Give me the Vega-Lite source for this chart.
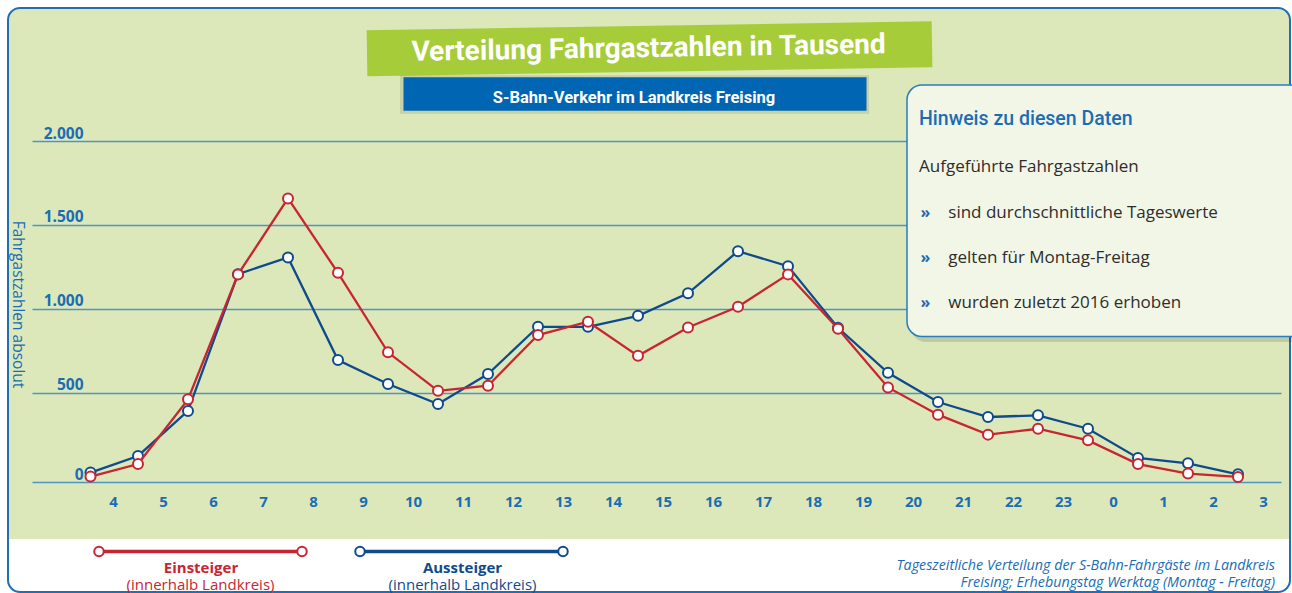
{
  "$schema": "https://vega.github.io/schema/vega-lite/v6.json",
  "width": 1249,
  "height": 341,
  "autosize": {"type": "none"},
  "padding": {"left": 32, "top": 141, "right": 11, "bottom": 111},
  "background": "#dce8ba",
  "config": {"view": {"stroke": null}, "font": "Open Sans"},
  "datasets": {
    "main": [
      {"t": 0.55, "series": "Aussteiger", "v": 26},
      {"t": 1.5, "series": "Aussteiger", "v": 125},
      {"t": 2.5, "series": "Aussteiger", "v": 393},
      {"t": 3.5, "series": "Aussteiger", "v": 1207},
      {"t": 4.5, "series": "Aussteiger", "v": 1307},
      {"t": 5.5, "series": "Aussteiger", "v": 696},
      {"t": 6.5, "series": "Aussteiger", "v": 553},
      {"t": 7.5, "series": "Aussteiger", "v": 434},
      {"t": 8.5, "series": "Aussteiger", "v": 613},
      {"t": 9.5, "series": "Aussteiger", "v": 894},
      {"t": 10.5, "series": "Aussteiger", "v": 894},
      {"t": 11.5, "series": "Aussteiger", "v": 959},
      {"t": 12.5, "series": "Aussteiger", "v": 1093},
      {"t": 13.5, "series": "Aussteiger", "v": 1344},
      {"t": 14.5, "series": "Aussteiger", "v": 1255},
      {"t": 15.5, "series": "Aussteiger", "v": 888},
      {"t": 16.5, "series": "Aussteiger", "v": 620},
      {"t": 17.5, "series": "Aussteiger", "v": 446},
      {"t": 18.5, "series": "Aussteiger", "v": 357},
      {"t": 19.5, "series": "Aussteiger", "v": 367},
      {"t": 20.5, "series": "Aussteiger", "v": 287},
      {"t": 21.5, "series": "Aussteiger", "v": 113},
      {"t": 22.5, "series": "Aussteiger", "v": 81},
      {"t": 23.5, "series": "Aussteiger", "v": 16},
      {"t": 0.55, "series": "Einsteiger", "v": 2},
      {"t": 1.5, "series": "Einsteiger", "v": 77},
      {"t": 2.5, "series": "Einsteiger", "v": 462},
      {"t": 3.5, "series": "Einsteiger", "v": 1206},
      {"t": 4.5, "series": "Einsteiger", "v": 1658},
      {"t": 5.5, "series": "Einsteiger", "v": 1215},
      {"t": 6.5, "series": "Einsteiger", "v": 742},
      {"t": 7.5, "series": "Einsteiger", "v": 513},
      {"t": 8.5, "series": "Einsteiger", "v": 543},
      {"t": 9.5, "series": "Einsteiger", "v": 845},
      {"t": 10.5, "series": "Einsteiger", "v": 924},
      {"t": 11.5, "series": "Einsteiger", "v": 721},
      {"t": 12.5, "series": "Einsteiger", "v": 890},
      {"t": 13.5, "series": "Einsteiger", "v": 1013},
      {"t": 14.5, "series": "Einsteiger", "v": 1206},
      {"t": 15.5, "series": "Einsteiger", "v": 882},
      {"t": 16.5, "series": "Einsteiger", "v": 533},
      {"t": 17.5, "series": "Einsteiger", "v": 371},
      {"t": 18.5, "series": "Einsteiger", "v": 252},
      {"t": 19.5, "series": "Einsteiger", "v": 287},
      {"t": 20.5, "series": "Einsteiger", "v": 218},
      {"t": 21.5, "series": "Einsteiger", "v": 77},
      {"t": 22.5, "series": "Einsteiger", "v": 20},
      {"t": 23.5, "series": "Einsteiger", "v": 0}
    ]
  },
  "data": {"name": "main"},
  "layer": [
    {
      "transform": [{"filter": "datum.series === 'Aussteiger'"}],
      "mark": {"type": "line", "color": "#0f4b8c", "strokeWidth": 2.3},
      "encoding": {
        "x": {
          "field": "t", "type": "quantitative",
          "scale": {"domain": [-0.62, 24.36], "nice": false, "zero": false},
          "axis": {
            "values": [1,2,3,4,5,6,7,8,9,10,11,12,13,14,15,16,17,18,19,20,21,22,23,24],
            "labelExpr": "(datum.value + 3) % 24",
            "title": null, "grid": false, "ticks": false, "domain": false,
            "labelPadding": 19, "labelBaseline": "middle",
            "labelFont": "Open Sans", "labelFontSize": 15, "labelFontWeight": "bold",
            "labelColor": "#1a6db5", "labelFlush": false, "labelOverlap": false, "labelBound": false
          }
        },
        "y": {
          "field": "v", "type": "quantitative",
          "scale": {"domain": [-30, 2000], "nice": false, "zero": false},
          "axis": {
            "values": [-30, 500, 1000, 1500, 2000],
            "labelExpr": "datum.value < 0 ? '0' : replace(format(datum.value, ','), ',', '.')",
            "grid": true, "gridColor": "#4f93c4", "gridWidth": 1.4, "gridOpacity": 1,
            "ticks": false, "domain": false,
            "labelAlign": "right", "labelBaseline": "alphabetic", "labelPadding": -51, "labelOffset": -3,
            "labelFont": "Open Sans", "labelFontSize": 15.5, "labelFontWeight": "bold", "labelColor": "#1a6db5",
            "labelBound": false, "labelFlush": false, "labelOverlap": false,
            "title": "Fahrgastzahlen absolut", "titleAngle": 90, "titleX": -15, "titleY": 163,
            "titleAlign": "center", "titleBaseline": "middle", "titleFont": "Open Sans",
            "titleFontSize": 15.5, "titleFontWeight": "normal", "titleColor": "#1a6db5"
          }
        }
      }
    },
    {
      "transform": [{"filter": "datum.series === 'Aussteiger'"}],
      "mark": {"type": "point", "shape": "circle", "filled": true, "fill": "white", "stroke": "#0f4b8c", "strokeWidth": 2, "size": 100, "opacity": 1},
      "encoding": {"x": {"field": "t", "type": "quantitative"}, "y": {"field": "v", "type": "quantitative"}}
    },
    {
      "transform": [{"filter": "datum.series === 'Einsteiger'"}],
      "mark": {"type": "line", "color": "#c82532", "strokeWidth": 2.3},
      "encoding": {"x": {"field": "t", "type": "quantitative"}, "y": {"field": "v", "type": "quantitative"}}
    },
    {
      "transform": [{"filter": "datum.series === 'Einsteiger'"}],
      "mark": {"type": "point", "shape": "circle", "filled": true, "fill": "white", "stroke": "#c82532", "strokeWidth": 2, "size": 100, "opacity": 1},
      "encoding": {"x": {"field": "t", "type": "quantitative"}, "y": {"field": "v", "type": "quantitative"}}
    },
    {
      "data": {"values": [{}]},
      "mark": {"type": "rect", "fill": "white"},
      "encoding": {"x": {"datum": -1.66}, "x2": {"datum": 24.94}, "y": {"datum": -369.3}, "y2": {"datum": -851.5}}
    },
    {
      "data": {"values": [{}]},
      "mark": {"type": "rect", "fillOpacity": 0, "stroke": "white", "strokeWidth": 30, "cornerRadius": 27},
      "encoding": {"x": {"datum": -1.40}, "x2": {"datum": 24.84}, "y": {"datum": 2881.1}, "y2": {"datum": -774.1}}
    },
    {
      "data": {"values": [{}]},
      "mark": {"type": "rect", "fillOpacity": 0, "stroke": "#1f6fb6", "strokeWidth": 2, "cornerRadius": 12},
      "encoding": {"x": {"datum": -1.10}, "x2": {"datum": 24.54}, "y": {"datum": 2791.8}, "y2": {"datum": -684.8}}
    },
    {
      "data": {"values": [{}]},
      "mark": {"type": "rect", "fill": "#000000", "opacity": 0.13, "cornerRadius": 15},
      "encoding": {"x": {"datum": 16.96}, "x2": {"datum": 24.94}, "y": {"datum": 2303.7}, "y2": {"datum": 803.4}}
    },
    {
      "data": {"values": [{}]},
      "mark": {"type": "rect", "fill": "#f2f6e6", "stroke": "#2a7bc0", "strokeWidth": 1.5, "cornerRadius": 15},
      "encoding": {"x": {"datum": 16.88}, "x2": {"datum": 24.94}, "y": {"datum": 2333.4}, "y2": {"datum": 836.2}}
    },
    {
      "data": {"values": [{}]},
      "mark": {"type": "text", "text": "Hinweis zu diesen Daten", "align": "left", "baseline": "middle", "font": "Roboto", "fontSize": 19.5, "fontWeight": 500, "color": "#1a6db5"},
      "encoding": {"x": {"datum": 17.12}, "y": {"datum": 2128.0}}
    },
    {
      "data": {"values": [{}]},
      "mark": {"type": "text", "text": "Aufgeführte Fahrgastzahlen", "align": "left", "baseline": "middle", "font": "Open Sans", "fontSize": 17, "color": "#2d2d2d"},
      "encoding": {"x": {"datum": 17.12}, "y": {"datum": 1843.4}}
    },
    {
      "data": {"values": [{}]},
      "mark": {"type": "text", "text": "»", "align": "center", "baseline": "middle", "font": "Open Sans", "fontSize": 16, "fontWeight": "bold", "color": "#1a6db5"},
      "encoding": {"x": {"datum": 17.25}, "y": {"datum": 1573.2}}
    },
    {
      "data": {"values": [{}]},
      "mark": {"type": "text", "text": "»", "align": "center", "baseline": "middle", "font": "Open Sans", "fontSize": 16, "fontWeight": "bold", "color": "#1a6db5"},
      "encoding": {"x": {"datum": 17.25}, "y": {"datum": 1305.3}}
    },
    {
      "data": {"values": [{}]},
      "mark": {"type": "text", "text": "»", "align": "center", "baseline": "middle", "font": "Open Sans", "fontSize": 16, "fontWeight": "bold", "color": "#1a6db5"},
      "encoding": {"x": {"datum": 17.25}, "y": {"datum": 1037.4}}
    },
    {
      "data": {"values": [{}]},
      "mark": {"type": "text", "text": "sind durchschnittliche Tageswerte", "align": "left", "baseline": "middle", "font": "Open Sans", "fontSize": 17, "color": "#2d2d2d"},
      "encoding": {"x": {"datum": 17.706}, "y": {"datum": 1573.2}}
    },
    {
      "data": {"values": [{}]},
      "mark": {"type": "text", "text": "gelten für Montag-Freitag", "align": "left", "baseline": "middle", "font": "Open Sans", "fontSize": 17, "color": "#2d2d2d"},
      "encoding": {"x": {"datum": 17.706}, "y": {"datum": 1305.3}}
    },
    {
      "data": {"values": [{}]},
      "mark": {"type": "text", "text": "wurden zuletzt 2016 erhoben", "align": "left", "baseline": "middle", "font": "Open Sans", "fontSize": 17, "color": "#2d2d2d"},
      "encoding": {"x": {"datum": 17.706}, "y": {"datum": 1037.4}}
    },
    {
      "data": {"values": [{}]},
      "mark": {"type": "rule", "color": "#a6cc3a", "strokeWidth": 46, "strokeCap": "butt"},
      "encoding": {"x": {"datum": 6.08}, "y": {"datum": 2522.1}, "x2": {"datum": 17.38}, "y2": {"datum": 2576.3}}
    },
    {
      "data": {"values": [{}]},
      "mark": {"type": "text", "text": "Verteilung Fahrgastzahlen in Tausend", "align": "center", "baseline": "middle", "angle": -0.9, "font": "Roboto", "fontSize": 28, "fontWeight": "bold", "color": "white"},
      "encoding": {"x": {"datum": 11.712}, "y": {"datum": 2547.7}}
    },
    {
      "data": {"values": [{}]},
      "mark": {"type": "rect", "fill": "#3f4a2a", "opacity": 0.14},
      "encoding": {"x": {"datum": 6.74}, "x2": {"datum": 16.12}, "y": {"datum": 2392.0}, "y2": {"datum": 2162.0}}
    },
    {
      "data": {"values": [{}]},
      "mark": {"type": "rect", "fill": "#0066b3"},
      "encoding": {"x": {"datum": 6.81}, "x2": {"datum": 16.07}, "y": {"datum": 2379.2}, "y2": {"datum": 2180.4}}
    },
    {
      "data": {"values": [{}]},
      "mark": {"type": "text", "text": "S-Bahn-Verkehr im Landkreis Freising", "align": "center", "baseline": "middle", "font": "Roboto", "fontSize": 16.5, "fontWeight": "bold", "color": "white"},
      "encoding": {"x": {"datum": 11.42}, "y": {"datum": 2254.2}}
    },
    {
      "data": {"values": [{}]},
      "mark": {"type": "rule", "color": "#c82532", "strokeWidth": 3.5},
      "encoding": {"x": {"datum": 0.72}, "x2": {"datum": 4.78}, "y": {"datum": -443.7}}
    },
    {
      "data": {"values": [{}]},
      "mark": {"type": "rule", "color": "#0f4b8c", "strokeWidth": 3.5},
      "encoding": {"x": {"datum": 5.94}, "x2": {"datum": 10.0}, "y": {"datum": -443.7}}
    },
    {
      "data": {"values": [{}]},
      "mark": {"type": "point", "shape": "circle", "filled": true, "fill": "white", "stroke": "#c82532", "strokeWidth": 2, "size": 90, "opacity": 1},
      "encoding": {"x": {"datum": 0.72}, "y": {"datum": -443.7}}
    },
    {
      "data": {"values": [{}]},
      "mark": {"type": "point", "shape": "circle", "filled": true, "fill": "white", "stroke": "#c82532", "strokeWidth": 2, "size": 90, "opacity": 1},
      "encoding": {"x": {"datum": 4.78}, "y": {"datum": -443.7}}
    },
    {
      "data": {"values": [{}]},
      "mark": {"type": "point", "shape": "circle", "filled": true, "fill": "white", "stroke": "#0f4b8c", "strokeWidth": 2, "size": 90, "opacity": 1},
      "encoding": {"x": {"datum": 5.94}, "y": {"datum": -443.7}}
    },
    {
      "data": {"values": [{}]},
      "mark": {"type": "point", "shape": "circle", "filled": true, "fill": "white", "stroke": "#0f4b8c", "strokeWidth": 2, "size": 90, "opacity": 1},
      "encoding": {"x": {"datum": 10.0}, "y": {"datum": -443.7}}
    },
    {
      "data": {"values": [{}]},
      "mark": {"type": "text", "text": "Einsteiger", "align": "center", "baseline": "middle", "font": "Open Sans", "fontSize": 15, "fontWeight": "bold", "color": "#c82532"},
      "encoding": {"x": {"datum": 2.76}, "y": {"datum": -541.9}}
    },
    {
      "data": {"values": [{}]},
      "mark": {"type": "text", "text": "(innerhalb Landkreis)", "align": "center", "baseline": "middle", "font": "Open Sans", "fontSize": 15, "color": "#c82532"},
      "encoding": {"x": {"datum": 2.75}, "y": {"datum": -646.1}}
    },
    {
      "data": {"values": [{}]},
      "mark": {"type": "text", "text": "Aussteiger", "align": "center", "baseline": "middle", "font": "Open Sans", "fontSize": 15, "fontWeight": "bold", "color": "#0f4b8c"},
      "encoding": {"x": {"datum": 7.99}, "y": {"datum": -541.9}}
    },
    {
      "data": {"values": [{}]},
      "mark": {"type": "text", "text": "(innerhalb Landkreis)", "align": "center", "baseline": "middle", "font": "Open Sans", "fontSize": 15, "color": "#0f4b8c"},
      "encoding": {"x": {"datum": 7.99}, "y": {"datum": -646.1}}
    },
    {
      "data": {"values": [{}]},
      "mark": {"type": "text", "text": "Tageszeitliche Verteilung der S-Bahn-Fahrgäste im Landkreis", "align": "right", "baseline": "middle", "font": "Open Sans", "fontSize": 14.3, "fontStyle": "italic", "color": "#1a6db5"},
      "encoding": {"x": {"datum": 24.24}, "y": {"datum": -530.1}}
    },
    {
      "data": {"values": [{}]},
      "mark": {"type": "text", "text": "Freising;  Erhebungstag Werktag (Montag - Freitag)", "align": "right", "baseline": "middle", "font": "Open Sans", "fontSize": 14.3, "fontStyle": "italic", "color": "#1a6db5"},
      "encoding": {"x": {"datum": 24.24}, "y": {"datum": -633.1}}
    }
  ]
}
